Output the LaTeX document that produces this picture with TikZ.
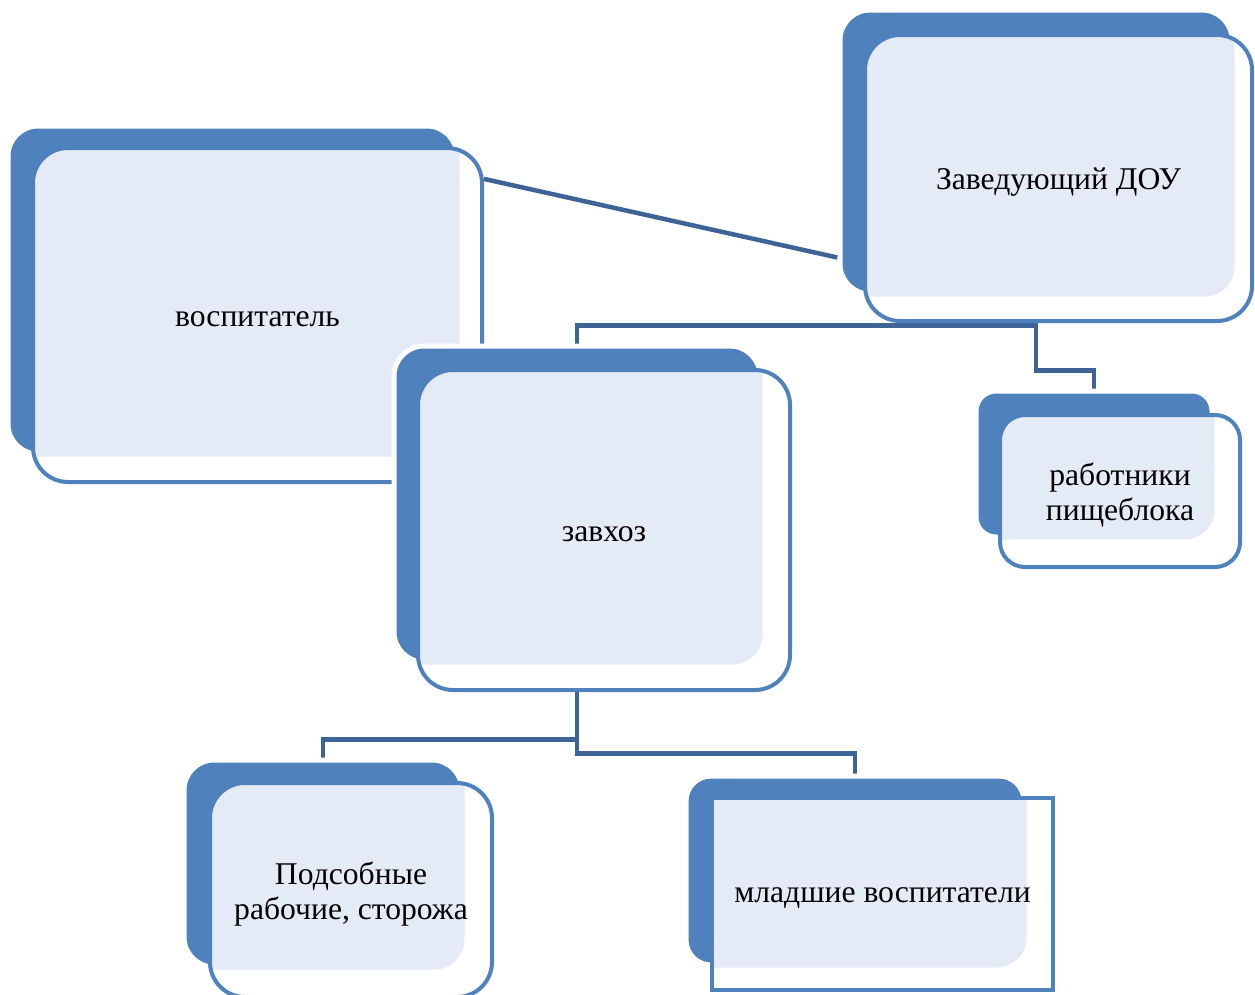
\documentclass[tikz,border=0pt]{standalone}
\usepackage{fontspec}
\setmainfont{Liberation Serif}
\usetikzlibrary{fit,backgrounds}
\definecolor{backblue}{RGB}{79,129,189}
\definecolor{linkblue}{RGB}{62,100,150}
\definecolor{dotblue}{RGB}{229,235,246}

\begin{document}
\begin{tikzpicture}[
  x=0.2mm, y=-0.2mm,
  font=\fontsize{18}{19.5}\selectfont,
  back/.style={fill=backblue, draw=white, line width=1mm, inner sep=0pt,
    rounded corners=6mm},
  front/.style={draw=backblue, fill=white, line width=0.8mm, inner sep=0pt,
    rounded corners=7mm,
    path picture={\fill[dotblue, rounded corners=6mm]
      (#1.north west) rectangle (#1.south east);}},
  lbl/.style={align=center, yshift=-0.8mm},
  link/.style={draw=linkblue, line width=0.9mm}
]
\useasboundingbox (0,0) rectangle (1255,994);

\node[back, fit={(8,126) (457,454)}] (vospB) {};
\node[front=vospB, fit={(33,148) (482,482)}] (vospF) {};
\node[lbl] (vospT) at (vospF) {воспитатель};

\node[back, fit={(840,10) (1232,294)}] (zavB) {};
\node[front=zavB, fit={(865,35) (1252,321)}] (zavF) {};
\node[lbl] (zavT) at (zavF) {Заведующий ДОУ};

\node[back, fit={(394,346) (760,662)}] (zhozB) {};
\node[front=zhozB, fit={(418,370) (790,690)}] (zhozF) {};
\node[lbl] (zhozT) at (zhozF) {завхоз};

\node[back, rounded corners=4mm, fit={(976,391) (1212,537)}] (pishB) {};
\node[front=pishB, rounded corners=5mm, fit={(1000,415) (1240,567)}] (pishF) {};
\node[lbl] (pishT) at (pishF) {работники\\пищеблока};

\node[back, fit={(184,760) (462,967)}] (podB) {};
\node[front=podB, fit={(210,783) (492,997)}] (podF) {};
\node[lbl] (podT) at (podF) {Подсобные\\рабочие, сторожа};

\node[back, rounded corners=5mm, fit={(686,776) (1024,965)}] (mlB) {};
\node[front=mlB, sharp corners, fit={(712,798) (1053,990)}] (mlF) {};
\node[lbl] (mlT) at (mlF) {младшие воспитатели};

% connectors under the boxes
\begin{scope}[on background layer]
\draw[link] (vospF.31) -- (zavB.208);
\draw[link] (zavB.south) -- ++(0,29) -| (zhozB.north);
\draw[link] (zavB.south) -- ++(0,74) -| (pishB.north);
\draw[link] (zhozB.south) -- ++(0,75) -| (podB.north);
\draw[link] (zhozB.south) -- ++(0,89) -| (mlB.north);
\end{scope}
\end{tikzpicture}
\end{document}
